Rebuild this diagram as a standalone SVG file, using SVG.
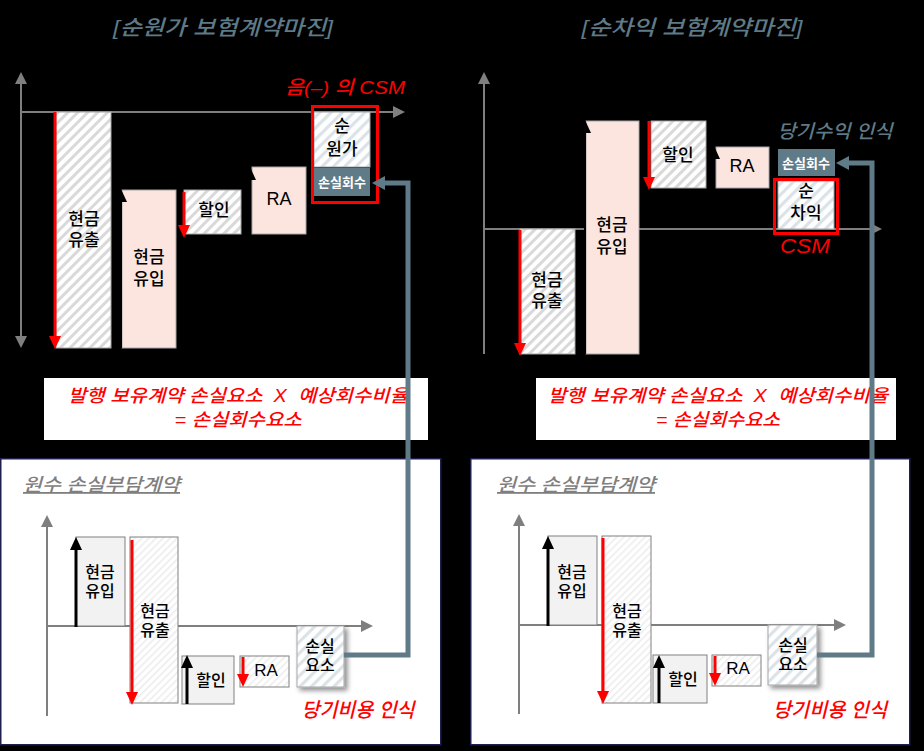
<svg xmlns="http://www.w3.org/2000/svg" width="924" height="751" viewBox="0 0 924 751">
<style>
text { font-family: "Liberation Sans", "Noto Sans CJK KR", sans-serif; font-weight: 500; }
.title { font-size: 21px; fill: #5f7a87; font-style: italic; text-anchor: middle; }
.lbl { font-size: 17px; fill: #000; text-anchor: middle; }
.lbls { font-size: 16px; fill: #000; text-anchor: middle; }
.wt { font-size: 13px; fill: #fff; font-weight: bold; text-anchor: middle; }
.rit { fill: #ff0000; font-style: italic; text-anchor: middle; }
.pre { white-space: pre; }
.sit { fill: #5f7a87; font-style: italic; text-anchor: middle; }
.git { fill: #7f7f7f; font-style: italic; text-decoration: underline; }
.axis { stroke: #7f7f7f; stroke-width: 2; fill: none; }
.ra { stroke: #ff0000; stroke-width: 3; fill: none; }
.ba { stroke: #000; stroke-width: 3; fill: none; }
.pink { fill: #fbe5de; stroke: #a6a6a6; stroke-width: 1; }
.hg { fill: url(#hatchGray); stroke: #a6a6a6; stroke-width: 1; }
.hb { fill: url(#hatchBlue); stroke: #a6a6a6; stroke-width: 1; }
.hf { fill: url(#hatchFaint); stroke: #808080; stroke-width: 1; }
.gf { fill: #f2f2f2; stroke: #808080; stroke-width: 1; }
.slate { fill: #607b88; }
.panel { fill: #fff; stroke: #1f1f4f; stroke-width: 1.5; }
.conn { stroke: #607b88; stroke-width: 5; fill: none; }
</style>
<defs>
<pattern id="hatchGray" width="7" height="7" patternUnits="userSpaceOnUse" patternTransform="rotate(45)">
<rect width="7" height="7" fill="#fff"/><rect width="3" height="7" fill="#d9d9d9"/>
</pattern>
<pattern id="hatchBlue" width="8" height="8" patternUnits="userSpaceOnUse" patternTransform="rotate(45)">
<rect width="8" height="8" fill="#fff"/><rect width="3.2" height="8" fill="#dbe3e8"/>
</pattern>
<pattern id="hatchFaint" width="5" height="5" patternUnits="userSpaceOnUse" patternTransform="rotate(45)">
<rect width="5" height="5" fill="#fff"/><rect width="1.5" height="5" fill="#ececec"/>
</pattern>
<marker id="mAxis" viewBox="0 0 12 12" markerWidth="12" markerHeight="12" markerUnits="userSpaceOnUse" refX="6" refY="6" orient="auto-start-reverse">
<path d="M0,0 L12,6 L0,12 z" fill="#7f7f7f"/>
</marker>
<marker id="mRed" viewBox="0 0 13 12" markerWidth="13" markerHeight="12" markerUnits="userSpaceOnUse" refX="6" refY="6" orient="auto">
<path d="M0,0 L13,6 L0,12 z" fill="#ff0000"/>
</marker>
<marker id="mBlack" viewBox="0 0 13 12" markerWidth="13" markerHeight="12" markerUnits="userSpaceOnUse" refX="6" refY="6" orient="auto">
<path d="M0,0 L13,6 L0,12 z" fill="#000"/>
</marker>
<marker id="mSlate" viewBox="0 0 13 14" markerWidth="13" markerHeight="14" markerUnits="userSpaceOnUse" refX="5" refY="7" orient="auto">
<path d="M0,0 L13,7 L0,14 z" fill="#607b88"/>
</marker>
<filter id="shadow" x="-20%" y="-20%" width="150%" height="150%">
<feGaussianBlur in="SourceAlpha" stdDeviation="2.5"/>
<feOffset dx="3" dy="3" result="b"/>
<feComponentTransfer><feFuncA type="linear" slope="0.45"/></feComponentTransfer>
<feMerge><feMergeNode/><feMergeNode in="SourceGraphic"/></feMerge>
</filter>
</defs>
<rect width="924" height="751" fill="#000"/>

<!-- ===== Top-left panel ===== -->
<g id="title-left"><text class="title" x="223" y="35" textLength="220" lengthAdjust="spacingAndGlyphs">[순원가 보험계약마진]</text></g>
<g id="axes-tl">
<line class="axis" x1="21" y1="78" x2="21" y2="342" marker-start="url(#mAxis)" marker-end="url(#mAxis)"/>
<line class="axis" x1="21" y1="112" x2="399" y2="112" marker-end="url(#mAxis)"/>
</g>
<g id="tl-outflow">
<rect class="hg" x="56" y="112" width="55" height="236"/>
<line class="ra" x1="55" y1="112" x2="55" y2="342" marker-end="url(#mRed)"/>
<text class="lbl" x="84" y="225">현금</text><text class="lbl" x="84" y="246">유출</text>
</g>
<g id="tl-inflow">
<rect class="pink" x="122" y="190" width="54" height="158"/>
<line class="ba" style="stroke-width:2" x1="121" y1="348" x2="121" y2="196" marker-end="url(#mBlack)"/>
<text class="lbl" x="149" y="263">현금</text><text class="lbl" x="149" y="285">유입</text>
</g>
<g id="tl-discount">
<rect class="hg" x="184" y="190" width="57" height="44"/>
<line class="ra" x1="184" y1="192" x2="184" y2="231" marker-end="url(#mRed)"/>
<text class="lbl" x="214" y="216">할인</text>
</g>
<g id="tl-ra">
<rect class="pink" x="252" y="167" width="54" height="67"/>
<line class="ba" style="stroke-width:2" x1="250" y1="234" x2="250" y2="174" marker-end="url(#mBlack)"/>
<text class="lbl" x="279" y="205" style="font-size:18px">RA</text>
</g>
<g id="tl-netcost">
<rect class="hb" x="314" y="112" width="56" height="55"/>
<text class="lbl" x="342" y="132">순</text><text class="lbl" x="342" y="155">원가</text>
</g>
<g id="tl-recovery">
<rect class="slate" x="314" y="168" width="56" height="28"/>
<text class="wt" x="342" y="187">손실회수</text>
</g>
<g id="tl-csm-box">
<rect x="312.5" y="106.5" width="65" height="96" fill="none" stroke="#ff0000" stroke-width="3"/>
<text class="rit" x="345" y="94" style="font-size:19px" textLength="120" lengthAdjust="spacingAndGlyphs">음(–) 의 CSM</text>
</g>
<g id="tl-formula">
<rect x="44" y="378" width="384" height="62" fill="#fff"/>
<text class="rit pre" x="238" y="402" style="font-size:18px" textLength="340" lengthAdjust="spacingAndGlyphs">발행 보유계약 손실요소  X  예상회수비율</text>
<text class="rit" x="238" y="426" style="font-size:18px" textLength="127" lengthAdjust="spacingAndGlyphs">= 손실회수요소</text>
</g>

<!-- ===== Top-right panel ===== -->
<g id="title-right"><text class="title" x="692" y="35" textLength="221" lengthAdjust="spacingAndGlyphs">[순차익 보험계약마진]</text></g>
<g id="axes-tr">
<line class="axis" x1="484" y1="354" x2="484" y2="78" marker-end="url(#mAxis)"/>
<line class="axis" x1="484" y1="229" x2="876" y2="229" marker-end="url(#mAxis)"/>
</g>
<g id="tr-outflow">
<rect class="hg" x="520" y="229" width="55" height="125"/>
<line class="ra" x1="520" y1="230" x2="520" y2="349" marker-end="url(#mRed)"/>
<text class="lbl" x="547" y="286">현금</text><text class="lbl" x="547" y="307">유출</text>
</g>
<g id="tr-inflow">
<rect class="pink" x="586" y="121" width="53" height="233"/>
<line class="ba" style="stroke-width:2" x1="585" y1="354" x2="585" y2="127" marker-end="url(#mBlack)"/>
<text class="lbl" x="612" y="231">현금</text><text class="lbl" x="612" y="253">유입</text>
</g>
<g id="tr-discount">
<rect class="hg" x="651" y="121" width="55" height="67"/>
<line class="ra" x1="649" y1="121" x2="649" y2="183" marker-end="url(#mRed)"/>
<text class="lbl" x="678" y="161">할인</text>
</g>
<g id="tr-ra">
<rect class="pink" x="716" y="147" width="53" height="41"/>
<line class="ba" style="stroke-width:2" x1="714" y1="188" x2="714" y2="153" marker-end="url(#mBlack)"/>
<text class="lbl" x="742" y="172" style="font-size:18px">RA</text>
</g>
<g id="tr-recovery">
<rect class="slate" x="778" y="149" width="57" height="27"/>
<text class="wt" x="806" y="168">손실회수</text>
<text class="sit" x="835" y="138" style="font-size:19px" textLength="115" lengthAdjust="spacingAndGlyphs">당기수익 인식</text>
</g>
<g id="tr-netprofit">
<rect class="hb" x="778" y="181" width="56" height="48"/>
<text class="lbl" x="806" y="197">순</text><text class="lbl" x="806" y="219">차익</text>
<rect x="774.5" y="179.5" width="63" height="54" fill="none" stroke="#ff0000" stroke-width="3"/>
<text class="rit" x="805" y="253" style="font-size:20px" textLength="50" lengthAdjust="spacingAndGlyphs">CSM</text>
</g>
<g id="tr-formula">
<rect x="536" y="378" width="360" height="62" fill="#fff"/>
<text class="rit pre" x="718" y="402" style="font-size:18px" textLength="340" lengthAdjust="spacingAndGlyphs">발행 보유계약 손실요소  X  예상회수비율</text>
<text class="rit" x="718" y="426" style="font-size:18px" textLength="124" lengthAdjust="spacingAndGlyphs">= 손실회수요소</text>
</g>

<!-- ===== Bottom-left panel ===== -->
<g id="panel-bl">
<rect class="panel" x="0.75" y="458.75" width="440" height="286"/>
<text class="git" x="23" y="491" style="font-size:18px" textLength="157" lengthAdjust="spacingAndGlyphs">원수 손실부담계약</text>
<line class="axis" x1="47" y1="716" x2="47" y2="521" marker-end="url(#mAxis)"/>
<line class="axis" x1="47" y1="626" x2="367" y2="626" marker-end="url(#mAxis)"/>
</g>
<g id="bl-inflow">
<rect class="gf" x="76" y="537" width="49" height="89"/>
<line class="ba" x1="76" y1="627" x2="76" y2="544" marker-end="url(#mBlack)"/>
<text class="lbls" x="100" y="578">현금</text><text class="lbls" x="100" y="597">유입</text>
</g>
<g id="bl-outflow">
<rect class="hf" x="130" y="537" width="48" height="166"/>
<line class="ra" x1="132" y1="540" x2="132" y2="698" marker-end="url(#mRed)"/>
<text class="lbls" x="155" y="617">현금</text><text class="lbls" x="155" y="636">유출</text>
</g>
<g id="bl-discount">
<rect class="gf" x="182" y="656" width="52" height="48"/>
<line class="ba" x1="187" y1="704" x2="187" y2="662" marker-end="url(#mBlack)"/>
<text class="lbls" x="211" y="686">할인</text>
</g>
<g id="bl-ra">
<rect class="hf" x="240" y="656" width="49" height="31"/>
<line class="ra" x1="243" y1="657" x2="243" y2="680" marker-end="url(#mRed)"/>
<text class="lbls" x="266" y="676" style="font-size:17px">RA</text>
</g>
<g id="bl-loss">
<rect class="hb" x="297" y="626" width="47" height="61" filter="url(#shadow)"/>
<text class="lbls" x="320" y="652">손실</text><text class="lbls" x="320" y="671">요소</text>
<text class="rit" x="358" y="717" style="font-size:20px" textLength="113" lengthAdjust="spacingAndGlyphs">당기비용 인식</text>
</g>

<!-- ===== Bottom-right panel ===== -->
<g id="panel-br">
<rect class="panel" x="470.75" y="458.75" width="439" height="286"/>
<text class="git" x="497" y="491" style="font-size:18px" textLength="158" lengthAdjust="spacingAndGlyphs">원수 손실부담계약</text>
<line class="axis" x1="519" y1="714" x2="519" y2="520" marker-end="url(#mAxis)"/>
<line class="axis" x1="519" y1="625" x2="840" y2="625" marker-end="url(#mAxis)"/>
</g>
<g id="br-inflow">
<rect class="gf" x="548" y="536" width="49" height="89"/>
<line class="ba" x1="548" y1="626" x2="548" y2="543" marker-end="url(#mBlack)"/>
<text class="lbls" x="572" y="578">현금</text><text class="lbls" x="572" y="597">유입</text>
</g>
<g id="br-outflow">
<rect class="hf" x="602" y="536" width="49" height="167"/>
<line class="ra" x1="603" y1="538" x2="603" y2="697" marker-end="url(#mRed)"/>
<text class="lbls" x="627" y="617">현금</text><text class="lbls" x="627" y="636">유출</text>
</g>
<g id="br-discount">
<rect class="gf" x="653" y="655" width="54" height="48"/>
<line class="ba" x1="659" y1="703" x2="659" y2="662" marker-end="url(#mBlack)"/>
<text class="lbls" x="683" y="685">할인</text>
</g>
<g id="br-ra">
<rect class="hf" x="712" y="655" width="49" height="31"/>
<line class="ra" x1="715" y1="656" x2="715" y2="679" marker-end="url(#mRed)"/>
<text class="lbls" x="738" y="674" style="font-size:17px">RA</text>
</g>
<g id="br-loss">
<rect class="hb" x="768" y="625" width="49" height="60" filter="url(#shadow)"/>
<text class="lbls" x="793" y="651">손실</text><text class="lbls" x="793" y="670">요소</text>
<text class="rit" x="830" y="717" style="font-size:20px" textLength="114" lengthAdjust="spacingAndGlyphs">당기비용 인식</text>
</g>

<!-- ===== Connectors ===== -->
<g id="connectors">
<path class="conn" d="M344,655 H408 V183 H380" marker-end="url(#mSlate)"/>
<path class="conn" d="M817,655 H872 V163 H844" marker-end="url(#mSlate)"/>
</g>
</svg>
